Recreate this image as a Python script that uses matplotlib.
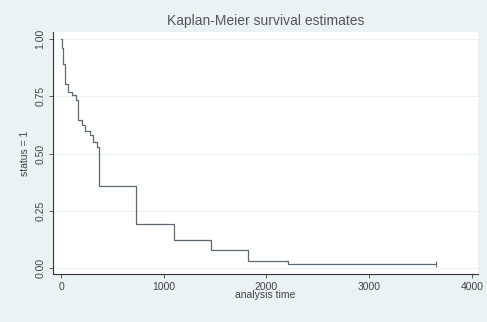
import matplotlib.pyplot as plt

# survival data (days, KM estimate)
times = [0, 8, 16, 40, 71, 104, 150, 162, 201, 234, 282, 315, 347, 365, 730, 1095, 1460, 1825, 2210, 3650]
surv = [1.0, 0.96, 0.89, 0.805, 0.77, 0.754, 0.732, 0.645, 0.623, 0.60, 0.58, 0.55, 0.53, 0.358, 0.192, 0.123, 0.079, 0.032, 0.018, 0.018]

xticks = [0, 1000, 2000, 3000, 4000]
yticks = [0.0, 0.25, 0.5, 0.75, 1.0]
ylabels = ["0.00", "0.25", "0.50", "0.75", "1.00"]

bg = "#eaf2f3"
txt = "#444444"

plt.rcParams['font.family'] = ['Liberation Sans', 'DejaVu Sans']

fig = plt.figure(figsize=(4.87, 3.22), dpi=100, facecolor=bg)
ax = fig.add_axes([0.109, 0.149, 0.872, 0.751])
ax.set_facecolor("white")

for y in yticks:
    ax.axhline(y, color=bg, lw=0.8, zorder=0)

ax.plot(times, surv, drawstyle="steps-post", color="#5c6875", lw=0.9)
# censoring mark at the end of follow-up
ax.plot([times[-1]], [surv[-1]], marker="|", ms=4, color="#5c6875", mew=0.8)

ax.set_xlim(-78, 4058)
ax.set_ylim(-0.026, 1.03)
ax.set_xticks(xticks)
ax.set_xticklabels([str(t) for t in xticks])
ax.set_yticks(yticks)
ax.set_yticklabels(ylabels, rotation=90, va="center")

for s in ["top", "right"]:
    ax.spines[s].set_visible(False)
for s in ["left", "bottom"]:
    ax.spines[s].set_color("#333333")
    ax.spines[s].set_linewidth(0.8)

ax.tick_params(axis="both", labelsize=7.5, colors=txt, length=3, width=0.6, pad=2.5)
ax.set_xlabel("analysis time", fontsize=7.5, color=txt, labelpad=-1)
ax.set_ylabel("status = 1", fontsize=7.5, color=txt, labelpad=4)
ax.set_title("Kaplan-Meier survival estimates", fontsize=10, color="#555555", pad=5)

fig.savefig("out.png", dpi=100, facecolor=bg)
